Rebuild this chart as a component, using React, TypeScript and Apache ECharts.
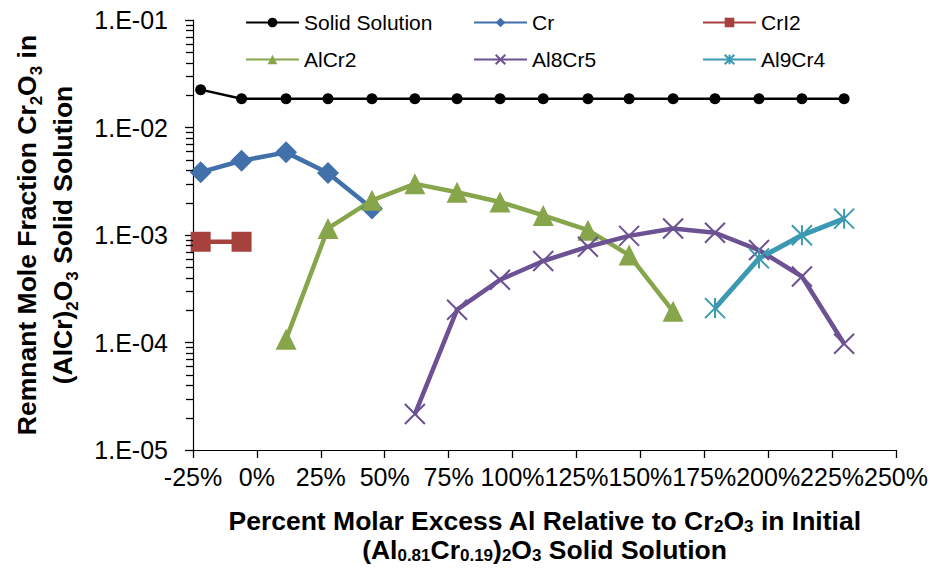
import React, { useEffect, useRef } from 'react';
import * as echarts from 'echarts';

const FONT = '"Liberation Sans", Arial, Helvetica, sans-serif';

// Percent molar excess Al (x) and remnant mole fraction (y) per phase
const xSolid = [-22, -6, 11.4, 27.8, 45, 61.8, 78.3, 95.1, 112, 129.5, 145.6, 162.8, 179.2, 196.4, 213.2, 229.7];
const ySolid = [0.0225, 0.0185, 0.0185, 0.0185, 0.0185, 0.0185, 0.0185, 0.0185, 0.0185, 0.0185, 0.0185, 0.0185, 0.0185, 0.0185, 0.0185, 0.0185];

const xCr = [-22, -6, 11.4, 27.8, 45];
const yCr = [0.00384, 0.00491, 0.00587, 0.00378, 0.00176];

const xCrI2 = [-22, -6];
const yCrI2 = [0.000865, 0.000865];

const xAlCr2 = [11.4, 27.8, 45, 61.8, 78.3, 95.1, 112, 129.5, 145.6, 162.8];
const yAlCr2 = [1.07e-4, 1.15e-3, 2.1e-3, 2.99e-3, 2.5e-3, 2.03e-3, 1.52e-3, 1.11e-3, 6.5e-4, 1.95e-4];

const xAl8Cr5 = [61.8, 78.3, 95.1, 112, 129.5, 145.6, 162.8, 179.2, 196.4, 213.2, 229.7];
const yAl8Cr5 = [2.16e-5, 2.02e-4, 3.83e-4, 5.73e-4, 7.78e-4, 9.82e-4, 1.15e-3, 1.05e-3, 7.24e-4, 4.11e-4, 9.73e-5];

const xAl9Cr4 = [179.2, 196.4, 213.2, 229.7];
const yAl9Cr4 = [2.09e-4, 6.06e-4, 9.95e-4, 1.42e-3];

const seriesNames = ['Solid Solution', 'Cr', 'CrI2', 'AlCr2', 'Al8Cr5', 'Al9Cr4'];

const yTickValues = [1e-5, 1e-4, 1e-3, 1e-2, 1e-1];
const yTickLabels = ['1.E-05', '1.E-04', '1.E-03', '1.E-02', '1.E-01'];
// log-axis minor ticks: mantissas 2..9 in each decade
const yMinorMantissas = [2, 3, 4, 5, 6, 7, 8, 9];
const yMinorDecades = [1e-5, 1e-4, 1e-3, 1e-2];

const xTickValues = [-25, 0, 25, 50, 75, 100, 125, 150, 175, 200, 225, 250];
const xTickLabels = ['-25%', '0%', '25%', '50%', '75%', '100%', '125%', '150%', '175%', '200%', '225%', '250%'];

const pair = (xs: number[], ys: number[]) => xs.map((x, i) => [x, ys[i]]);

export default function App() {
  const ref = useRef<HTMLDivElement>(null);

  useEffect(() => {
    const chart = echarts.init(ref.current as HTMLDivElement, null, { renderer: 'svg' });

    const titleRich = (lh: number, subLh: number) => ({
      b: { fontFamily: FONT, fontSize: 26.5, fontWeight: 'bold', color: '#000', lineHeight: lh, verticalAlign: 'middle' },
      s: { fontFamily: FONT, fontSize: 17, fontWeight: 'bold', color: '#000', lineHeight: subLh, verticalAlign: 'bottom' },
    });

    const legendBase = {
      orient: 'vertical',
      top: 12,
      padding: 0,
      itemWidth: 53,
      itemHeight: 12,
      itemGap: 16,
      textStyle: { fontFamily: FONT, fontSize: 21, color: '#000' },
    };

    const lineSeries = (
      name: string,
      data: number[][],
      color: string,
      width: number,
      symbol: string,
      size: number,
      extraItem: any = {}
    ) => ({
      type: 'line',
      name,
      data,
      symbol,
      symbolSize: size,
      lineStyle: { color, width },
      itemStyle: { color, ...extraItem },
      emphasis: { disabled: true },
    });

    const xMark = 'path://M0,0L20,20M20,0L0,20';
    const starMark = 'path://M0,0L20,20M20,0L0,20M10,0L10,20';

    chart.setOption({
      animation: false,
      backgroundColor: '#fff',
      grid: { left: 193, right: 37, top: 20, bottom: 116, containLabel: false },
      legend: [
        { ...legendBase, left: 245, data: [seriesNames[0], seriesNames[3]] },
        { ...legendBase, left: 473, data: [seriesNames[1], seriesNames[4]] },
        { ...legendBase, left: 702, data: [seriesNames[2], seriesNames[5]] },
      ],
      xAxis: {
        type: 'value',
        min: xTickValues[0],
        max: xTickValues[xTickValues.length - 1],
        interval: 25,
        axisLine: { show: true, onZero: false, lineStyle: { color: '#000', width: 1.2 } },
        axisTick: { show: true, length: 8, lineStyle: { color: '#000', width: 1.3 } },
        splitLine: { show: false },
        axisLabel: {
          fontFamily: FONT,
          fontSize: 25,
          color: '#000',
          margin: 14,
          formatter: (v: number) => {
            const i = xTickValues.findIndex((t) => Math.abs(t - v) < 1e-6);
            return i >= 0 ? xTickLabels[i] : '';
          },
        },
        name:
          '{b|Percent Molar Excess Al Relative to Cr}{s|2}{b|O}{s|3}{b| in Initial}\n' +
          '{b|(Al}{s|0.81}{b|Cr}{s|0.19}{b|)}{s|2}{b|O}{s|3}{b| Solid Solution}',
        nameLocation: 'middle',
        nameGap: 56,
        nameTextStyle: { rich: titleRich(29, 12) },
      },
      yAxis: {
        type: 'log',
        logBase: 10,
        min: yTickValues[0],
        max: yTickValues[yTickValues.length - 1],
        axisLine: { show: true, onZero: false, lineStyle: { color: '#000', width: 1.2 } },
        axisTick: { show: true, length: 8, lineStyle: { color: '#000', width: 1.3 } },
        splitLine: { show: false },
        axisLabel: {
          fontFamily: FONT,
          fontSize: 25,
          color: '#000',
          margin: 25,
          formatter: (v: number) => {
            const i = yTickValues.findIndex((t) => Math.abs(Math.log10(t) - Math.log10(v)) < 1e-6);
            return i >= 0 ? yTickLabels[i] : '';
          },
        },
        name:
          '{b|Remnant Mole Fraction Cr}{s|2}{b|O}{s|3}{b| in}\n' +
          '{b|(AlCr)}{s|2}{b|O}{s|3}{b| Solid Solution}',
        nameLocation: 'middle',
        nameRotate: 90,
        nameGap: 112,
        nameTextStyle: { rich: titleRich(36, 20) },
      },
      series: [
        lineSeries(seriesNames[0], pair(xSolid, ySolid), '#000000', 2.5, 'circle', 11),
        lineSeries(seriesNames[1], pair(xCr, yCr), '#4170AB', 4.5, 'diamond', 22),
        lineSeries(seriesNames[2], pair(xCrI2, yCrI2), '#A6413E', 4.5, 'rect', 20),
        lineSeries(seriesNames[3], pair(xAlCr2, yAlCr2), '#87A54A', 4.5, 'triangle', 21),
        lineSeries(seriesNames[4], pair(xAl8Cr5, yAl8Cr5), '#6C5193', 4.5, xMark, 20, {
          borderColor: '#6C5193',
          borderWidth: 2,
        }),
        lineSeries(seriesNames[5], pair(xAl9Cr4, yAl9Cr4), '#3B9AB1', 5, starMark, 20, {
          borderColor: '#3B9AB1',
          borderWidth: 2,
        }),
      ],
    });

    // Log-axis minor ticks, placed through the chart's own y scale
    const minorLines: any[] = [];
    yMinorDecades.forEach((d) =>
      yMinorMantissas.forEach((m) => {
        const p = chart.convertToPixel({ gridIndex: 0 }, [xTickValues[0], m * d]) as number[];
        if (p && isFinite(p[0]) && isFinite(p[1])) {
          const y = Math.round(p[1]) + 0.5;
          minorLines.push({
            type: 'line',
            silent: true,
            z: 10,
            shape: { x1: p[0] - 7, y1: y, x2: p[0], y2: y },
            style: { stroke: '#000', lineWidth: 1.3 },
          });
        }
      })
    );
    chart.setOption({ graphic: minorLines });

    return () => chart.dispose();
  }, []);

  return (
    <div
      ref={ref}
      style={{ position: 'fixed', left: 0, top: 0, width: 933, height: 569, background: '#fff' }}
    />
  );
}
